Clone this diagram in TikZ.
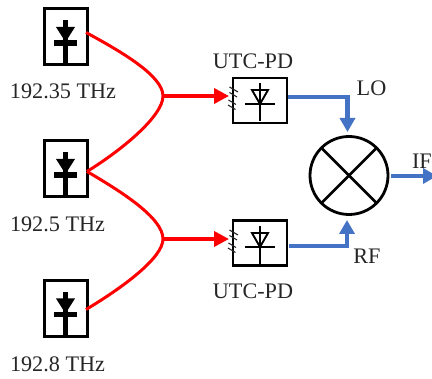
\documentclass[tikz,border=0pt]{standalone}
\usepackage{fontspec}
\setmainfont{Liberation Serif}
\usetikzlibrary{arrows.meta}
\definecolor{bluel}{HTML}{4472C4}
\definecolor{txt}{HTML}{262626}
\tikzset{
 every node/.style={inner sep=0pt,outer sep=0pt},
 lab/.style={font=\fontsize{22.2}{22.2}\selectfont,text=txt},
 laserbox/.style={draw=black,line width=3pt,minimum width=43pt,minimum height=56pt,fill=white},
 pdbox/.style={draw=black,line width=2.6pt,minimum width=54pt,minimum height=45pt,fill=white},
 redl/.style={draw=red,line width=3pt},
 redarr/.style={draw=red,line width=3.6pt,-{Triangle[length=15pt,width=15pt]}},
 bluearr/.style={draw=bluel,line width=4.2pt,-{Triangle[length=14pt,width=15pt]}},
 sym/.style={draw=black,line width=2.6pt},
 thin sym/.style={draw=black!85,line width=1.1pt},
}
\newcommand{\laserglyph}[1]{%
 \begin{scope}[shift={(#1)}]
  \draw[black,line width=5.5pt] (0,-16.5) -- (0,27);
  \fill[black] (-9.5,-10) -- (9.5,-10) -- (0,5) -- cycle;
  \draw[black,line width=5.5pt] (-11.5,6) -- (11.5,6);
 \end{scope}}
\newcommand{\pdglyph}[1]{%
 \begin{scope}[shift={(#1)}]
  \draw[sym,line width=1.9pt] (-8,-7) -- (8,-7) -- (0,7) -- cycle;
  \draw[sym,line width=2pt] (0,-14) -- (0,24);
  \draw[sym,line width=2.2pt] (-15,7) -- (15,7);
 \end{scope}}
\newcommand{\pdrays}[1]{%
 \begin{scope}[shift={(#1)}]
  \draw[thin sym] (-3.5,-10) -- (5,-5);
  \draw[thin sym] (-3.5,-4.5) -- (4,0);
  \draw[thin sym] (-4.5,3) -- (3,7.5);
  \draw[thin sym] (-5,8) -- (2.5,12.5);
 \end{scope}}
\begin{document}
\begin{tikzpicture}[x=1pt,y=-1pt]
\path[use as bounding box] (0,0) rectangle (432,379);
\clip (0,0) rectangle (432,379);
% lasers
\node[laserbox] (L1) at (65.5,37) {};
\node[laserbox] (L2) at (65.5,169) {};
\node[laserbox] (L3) at (65.5,308.5) {};
\laserglyph{65.5,37}
\laserglyph{65.5,169}
\laserglyph{65.5,308.5}
\node[lab] (T1) at (63,91) {192.35 THz};
\node[lab] (T2) at (57.5,224) {192.5 THz};
\node[lab] (T3) at (57.5,364.5) {192.8 THz};
% couplers
\coordinate (A1) at (86,32.5);
\coordinate (A2) at (87,171.5);
\coordinate (A3) at (86,309.5);
\coordinate (J1) at (163,96);
\coordinate (J2) at (163,239);
\path[redl] (A1) .. controls (122,52) and (163,76) .. (J1)
            .. controls (163,116) and (122,150) .. (A2);
\path[redl] (A2) .. controls (122,192) and (163,218) .. (J2)
            .. controls (163,258) and (122,288) .. (A3);
% photodiodes
\node[pdbox] (P1) at (260,100.5) {};
\node[pdbox] (P2) at (260,243) {};
\pdglyph{260,97}
\pdglyph{260,240}
\pdrays{233,97}
\pdrays{233,240}
\node[lab] (U1) at (253,61) {UTC-PD};
\node[lab] (U2) at (253,291) {UTC-PD};
\draw[redarr] (J1) -- (229,96);
\draw[redarr] (J2) -- (229,239);
% mixer
\node[circle,draw=black,line width=2.8pt,minimum size=78pt,fill=white] (M) at (349,175.5) {};
\draw[sym] (M.45) -- (M.225);
\draw[sym] (M.135) -- (M.315);
% outputs
\coordinate (O1) at (288,97);
\coordinate (O2) at (289,246);
\coordinate (O3) at (391,176);
\coordinate (O4) at (437,176);
\draw[bluearr] (O1) -- (347.5,97) -- (347.5,132);
\draw[bluearr] (O2) -- (347,246) -- (347,220);
\draw[bluearr] (O3) -- (O4);
\node[lab] (LO) at (371.5,88) {LO};
\node[lab] (RF) at (367,256) {RF};
\node[lab,anchor=west] (IF) at (412,161) {IF};
\end{tikzpicture}
\end{document}
